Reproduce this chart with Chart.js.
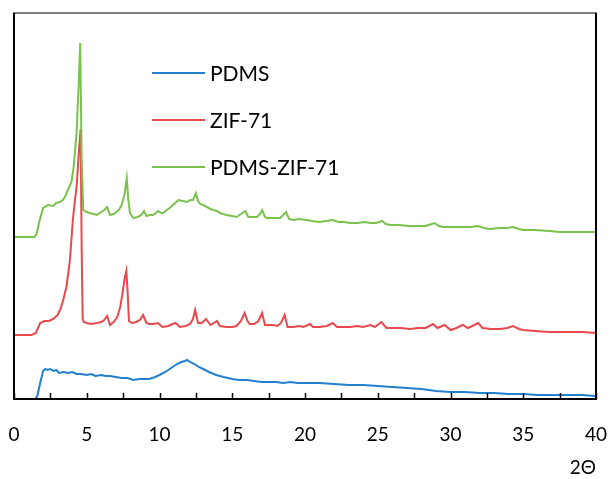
<!DOCTYPE html>
<html lang="en">
<head>
  <meta charset="UTF-8">
  <title>XRD patterns: PDMS, ZIF-71, PDMS-ZIF-71</title>
  <style>
    body {
      margin: 0;
      padding: 0;
      background-color: #fff;
    }
  </style>
  <script src="https://cdn.jsdelivr.net/npm/chart.js"></script>
</head>
<body>
  <canvas id="xrdChart" width="611" height="479"></canvas>

  <script>
    // x-axis ticks (2θ), labels only on multiples of 5
    const tickValues = [0, 2.5, 5, 7.5, 10, 12.5, 15, 17.5, 20, 22.5, 25, 27.5, 30, 32.5, 35, 37.5, 40];
    const seriesLabels = ['PDMS', 'ZIF-71', 'PDMS-ZIF-71'];

    // [2θ, intensity (arbitrary, offset)]
    const pdms = [
      [0, 0], [1.45, 0], [1.6, 3], [1.8, 16], [2.0, 28], [2.15, 30], [2.3, 29], [2.5, 30], [2.7, 28],
      [2.9, 29], [3.1, 26], [3.4, 27], [3.7, 26], [4.0, 27], [4.3, 25], [4.6, 25], [5.0, 24], [5.3, 25],
      [5.6, 23], [6.0, 24], [6.3, 23], [6.6, 23], [7.0, 22], [7.4, 21], [7.8, 21], [8.2, 19], [8.6, 20],
      [8.9, 20], [9.3, 20], [9.7, 22], [10.0, 24], [10.4, 27], [10.8, 31], [11.2, 35], [11.5, 37],
      [11.75, 38], [11.9, 39], [12.1, 37], [12.4, 35], [12.7, 32], [13.0, 30], [13.4, 27], [13.9, 24],
      [14.4, 22], [15.0, 20], [15.5, 19], [16.0, 19], [16.5, 18], [17.0, 17], [17.5, 17], [18.0, 17],
      [18.5, 16], [19.0, 17], [19.5, 16], [20.0, 16], [21.0, 16], [22.0, 15], [23.0, 14], [24.0, 14],
      [25.0, 13], [26.0, 12], [27.0, 11], [28.0, 10], [29.0, 8], [30.0, 7], [31.0, 7], [32.0, 6],
      [33.0, 6], [34.0, 5], [35.0, 5], [36.0, 4], [37.0, 4], [38.0, 4], [39.0, 4], [40.0, 3]
    ];

    const zif71 = [
      [0, 64], [1.2, 64], [1.5, 66], [1.8, 76], [2.1, 78], [2.4, 78], [2.7, 80], [3.0, 84], [3.2, 90],
      [3.4, 100], [3.6, 112], [3.75, 128], [3.85, 140], [3.95, 160], [4.05, 180], [4.2, 200], [4.3, 212],
      [4.45, 245], [4.58, 270], [4.65, 150], [4.72, 80], [4.8, 77], [5.0, 76], [5.3, 75], [5.7, 76],
      [6.0, 77], [6.2, 79], [6.4, 83], [6.6, 74], [6.85, 77], [7.1, 82], [7.3, 92], [7.45, 105], [7.6, 120],
      [7.72, 128], [7.8, 110], [7.9, 78], [8.1, 76], [8.4, 77], [8.65, 79], [8.87, 84], [9.1, 76], [9.3, 75],
      [9.55, 75], [9.9, 76], [10.2, 72], [10.6, 73], [10.9, 75], [11.1, 76], [11.4, 72], [11.8, 73],
      [12.1, 75], [12.3, 80], [12.45, 89], [12.65, 76], [12.9, 76], [13.2, 80], [13.5, 74], [13.75, 76],
      [13.95, 78], [14.15, 73], [14.6, 72], [15.0, 72], [15.3, 73], [15.6, 78], [15.85, 86], [16.05, 78],
      [16.2, 75], [16.5, 75], [16.8, 78], [17.05, 86], [17.25, 74], [17.5, 74], [17.8, 74], [18.1, 73],
      [18.35, 76], [18.6, 84], [18.8, 72], [19.2, 72], [19.6, 73], [19.9, 72], [20.35, 75], [20.55, 72],
      [21.0, 72], [21.5, 73], [21.9, 76], [22.2, 72], [22.6, 72], [23.1, 72], [23.6, 73], [24.0, 72],
      [24.5, 74], [24.8, 72], [25.25, 77], [25.6, 71], [26.0, 71], [26.6, 71], [27.2, 70], [27.8, 71],
      [28.3, 71], [28.8, 75], [29.1, 71], [29.6, 74], [30.0, 69], [30.4, 71], [30.85, 74], [31.2, 71],
      [31.5, 73], [31.9, 76], [32.2, 71], [32.8, 70], [33.4, 70], [33.9, 71], [34.3, 73], [34.7, 70],
      [35.0, 69], [35.8, 68], [36.8, 67], [37.8, 67], [39.1, 67], [40, 66]
    ];

    const pdmsZif71 = [
      [0, 162], [1.4, 162], [1.55, 165], [1.75, 178], [2.0, 191], [2.35, 194], [2.7, 193], [2.9, 196],
      [3.15, 197], [3.35, 199], [3.5, 202], [3.7, 209], [3.95, 217], [4.1, 232], [4.3, 266], [4.45, 316],
      [4.55, 356], [4.65, 240], [4.76, 189], [5.0, 187], [5.2, 186], [5.45, 185], [5.7, 184], [6.0, 187],
      [6.2, 189], [6.4, 192], [6.6, 184], [6.85, 185], [7.05, 187], [7.25, 190], [7.4, 194], [7.6, 205],
      [7.75, 221], [7.85, 200], [7.97, 186], [8.2, 181], [8.5, 182], [8.75, 184], [8.93, 188], [9.1, 183],
      [9.35, 184], [9.55, 184], [9.75, 186], [9.9, 188], [10.1, 186], [10.25, 186], [10.5, 189], [10.7, 191],
      [11.0, 195], [11.3, 199], [11.6, 198], [11.9, 197], [12.1, 199], [12.3, 199], [12.5, 206], [12.65, 198],
      [12.8, 195], [13.0, 194], [13.25, 192], [13.5, 190], [13.7, 189], [13.95, 188], [14.15, 186],
      [14.6, 184], [15.0, 183], [15.3, 182], [15.6, 185], [15.9, 188], [16.1, 182], [16.4, 182], [16.7, 182],
      [16.9, 185], [17.05, 189], [17.25, 182], [17.4, 181], [17.8, 181], [18.3, 181], [18.5, 184], [18.7, 187],
      [18.9, 180], [19.2, 179], [19.6, 180], [20.1, 179], [20.5, 178], [21.0, 177], [21.4, 178], [21.9, 179],
      [22.3, 177], [22.7, 177], [23.1, 176], [23.6, 176], [24.1, 177], [24.5, 176], [24.9, 176], [25.3, 178],
      [25.55, 175], [25.85, 174], [26.4, 174], [27.2, 173], [27.8, 173], [28.3, 173], [28.9, 176], [29.2, 173],
      [29.5, 172], [30.1, 172], [30.85, 172], [31.4, 172], [31.9, 173], [32.3, 171], [32.7, 170], [33.4, 171],
      [33.9, 171], [34.3, 172], [34.7, 170], [35.0, 169], [35.8, 169], [36.8, 168], [37.5, 167], [38.3, 167],
      [39.1, 167], [40, 167]
    ];

    const toPoints = (pairs) => pairs.map(([x, y]) => ({ x, y }));
    const FONT = 'Lato, "Open Sans", sans-serif';

    // frame, inside tick marks and legend, drawn last over everything
    const framePlugin = {
      id: 'frame',
      afterDraw(chart) {
        const c = chart.ctx;
        const a = chart.chartArea;
        const xScale = chart.scales.x;
        c.save();
        // grey box first, then black left / right / bottom edges over it
        c.lineWidth = 2;
        c.strokeStyle = '#7f7f7f';
        c.strokeRect(a.left, a.top, a.right - a.left, a.bottom - a.top);
        c.strokeStyle = '#000';
        c.beginPath();
        c.moveTo(a.left, a.top);
        c.lineTo(a.left, a.bottom);
        c.lineTo(a.right, a.bottom);
        c.lineTo(a.right, a.top);
        c.stroke();
        // tick marks pointing up from the x axis
        c.lineWidth = 1.5;
        tickValues.forEach(v => {
          const px = Math.round(xScale.getPixelForValue(v)) + 0.5;
          c.beginPath();
          c.moveTo(px, a.bottom);
          c.lineTo(px, a.bottom - 6);
          c.stroke();
        });

        // legend
        c.font = '21px ' + FONT;
        c.textBaseline = 'middle';
        chart.data.datasets.forEach((ds, i) => {
          const y = 73 + i * 47;
          c.fillStyle = ds.borderColor;
          c.fillRect(152, y - 1, 53, 2);
          c.fillStyle = '#000';
          c.fillText(ds.label, 210, y + 1);
        });
        c.restore();
      }
    };

    const chartCtx = document.getElementById('xrdChart').getContext('2d');
    new Chart(chartCtx, {
      type: 'line',
      data: {
        datasets: [
          { label: seriesLabels[0], data: toPoints(pdms), borderColor: '#2380ce', order: 3 },
          { label: seriesLabels[1], data: toPoints(zif71), borderColor: '#e8494c', order: 2 },
          { label: seriesLabels[2], data: toPoints(pdmsZif71), borderColor: '#7bc24d', order: 1 }
        ]
      },
      options: {
        responsive: false,
        animation: false,
        layout: { padding: { left: 14, right: 15, top: 13, bottom: 0 } },
        elements: {
          line: { borderWidth: 2, tension: 0 },
          point: { radius: 0 }
        },
        scales: {
          x: {
            type: 'linear',
            min: 0,
            max: 40,
            afterBuildTicks: (axis) => { axis.ticks = tickValues.filter(v => v % 5 === 0).map(v => ({ value: v })); },
            afterFit: (axis) => { axis.height = 80; axis.paddingLeft = 0; axis.paddingRight = 0; },
            grid: { display: false, drawTicks: false },
            border: { display: false },
            ticks: {
              color: '#000',
              padding: 24,
              maxRotation: 0,
              font: { family: FONT, size: 19 }
            },
            title: {
              display: true,
              text: '2Θ',
              align: 'end',
              color: '#000',
              font: { family: FONT, size: 19 },
              padding: { top: 12, bottom: 0 }
            }
          },
          y: {
            min: 0,
            max: 386,
            afterFit: (axis) => { axis.width = 0; },
            grid: { display: false, drawTicks: false },
            border: { display: false },
            ticks: { display: false }
          }
        },
        plugins: {
          legend: { display: false },
          tooltip: { enabled: false }
        }
      },
      plugins: [framePlugin]
    });
  </script>
</body>
</html>
